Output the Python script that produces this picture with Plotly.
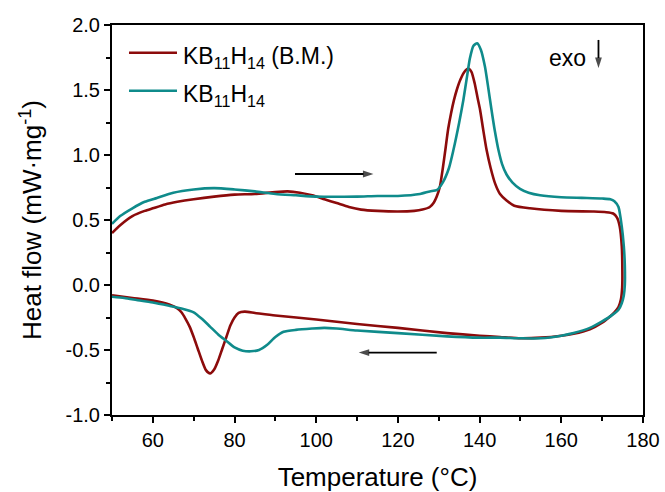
import plotly.graph_objects as go

# DSC heating/cooling loops (temperature in °C, heat flow in mW·mg^-1)
bm_temp = [
    50, 52, 55, 58, 60, 63, 66, 70, 75, 80, 85, 90, 93, 96, 99, 102, 105, 108, 111, 115,
    120, 124, 126, 127.8, 128.8, 129.5, 130.3, 131, 131.7, 132.3, 133, 133.7, 134.4, 135.3,
    136.3, 137.2, 138, 138.8, 139.5, 140.1, 140.9, 141.7, 142.7, 143.8, 145, 146.6, 148.5,
    152.3, 160, 168, 171, 172.7, 173.6, 174.3, 174.8, 174.95, 174.9, 174.6, 174, 173, 172,
    170, 167, 163, 160, 155, 150, 145, 140, 132, 120, 110, 100, 90, 85, 82.5, 81, 80, 79,
    78, 77, 76, 75, 74, 73, 72, 71, 70, 69, 68, 67, 66, 64, 60, 55, 50,
]
bm_flow = [
    0.40, 0.46, 0.53, 0.57, 0.59, 0.62, 0.64, 0.66, 0.68, 0.695, 0.70, 0.715, 0.72, 0.71,
    0.69, 0.66, 0.63, 0.60, 0.58, 0.57, 0.565, 0.57, 0.58, 0.60, 0.635, 0.68, 0.76, 0.90,
    1.06, 1.20, 1.32, 1.42, 1.50, 1.58, 1.64, 1.665, 1.64, 1.55, 1.44, 1.35, 1.19, 1.04,
    0.90, 0.78, 0.70, 0.65, 0.61, 0.59, 0.57, 0.565, 0.56, 0.55, 0.52, 0.45, 0.30, 0.10,
    -0.02, -0.11, -0.17, -0.21, -0.24, -0.29, -0.34, -0.375, -0.39, -0.405, -0.41, -0.40,
    -0.39, -0.37, -0.33, -0.30, -0.265, -0.235, -0.215, -0.205, -0.215, -0.25, -0.31,
    -0.40, -0.49, -0.58, -0.65, -0.68, -0.655, -0.58, -0.49, -0.40, -0.32, -0.26, -0.21,
    -0.18, -0.15, -0.12, -0.10, -0.08,
]

pure_temp = [
    50, 52, 55, 58, 61, 65, 70, 75, 80, 85, 90, 95, 100, 110, 115, 120, 125.4, 127.8,
    129.5, 131, 132.5, 133.6, 135, 136, 137, 137.6, 138.5, 139.4, 140.3, 141.3, 142.1,
    142.9, 143.7, 144.6, 145.5, 146.6, 148, 149.9, 152, 154.8, 160, 165, 170, 172, 173,
    174, 174.8, 175.3, 175.55, 175.55, 175.3, 174.8, 174, 172.5, 170, 167, 163, 160, 155,
    150, 145, 140, 132, 120, 110, 105, 102, 99, 95, 92, 90, 88, 86, 84, 82, 80, 78, 76,
    74, 72, 70, 67, 64, 60, 56, 53, 50,
]
pure_flow = [
    0.47, 0.53, 0.59, 0.64, 0.67, 0.71, 0.735, 0.745, 0.735, 0.72, 0.70, 0.69, 0.68,
    0.68, 0.685, 0.685, 0.70, 0.72, 0.73, 0.79, 0.90, 1.04, 1.25, 1.42, 1.62, 1.74, 1.84,
    1.86, 1.81, 1.68, 1.52, 1.35, 1.19, 1.04, 0.93, 0.85, 0.79, 0.74, 0.71, 0.69, 0.675,
    0.67, 0.665, 0.66, 0.645, 0.60, 0.45, 0.30, 0.15, 0.0, -0.08, -0.14, -0.19, -0.23,
    -0.28, -0.33, -0.37, -0.39, -0.41, -0.41, -0.405, -0.405, -0.395, -0.37, -0.35,
    -0.335, -0.33, -0.335, -0.345, -0.36, -0.40, -0.46, -0.50, -0.51, -0.505, -0.48,
    -0.43, -0.38, -0.32, -0.26, -0.21, -0.18, -0.16, -0.135, -0.115, -0.10, -0.09,
]

series_names = ["KB<sub>11</sub>H<sub>14</sub> (B.M.)", "KB<sub>11</sub>H<sub>14</sub>"]
series_colors = ["#8c0b0b", "#0f8b8b"]

x_ticks = [60, 80, 100, 120, 140, 160, 180]
y_ticks = [-1.0, -0.5, 0.0, 0.5, 1.0, 1.5, 2.0]
y_tick_text = ["-1.0", "-0.5", "0.0", "0.5", "1.0", "1.5", "2.0"]

# direction arrows: (start T, end T, heat flow level)
heating_arrow = (94.8, 114.0, 0.854)
cooling_arrow = (129.5, 110.4, -0.52)
exo_arrow = (169.1, 1.885, 1.67)

FONT = "Liberation Sans, Arial, sans-serif"

fig = go.Figure()
for temps, flows, name, color in [
    (bm_temp, bm_flow, series_names[0], series_colors[0]),
    (pure_temp, pure_flow, series_names[1], series_colors[1]),
]:
    fig.add_trace(go.Scatter(
        x=temps, y=flows, mode="lines", name=name, showlegend=False,
        line=dict(color=color, width=2.6, shape="spline", smoothing=0.6),
    ))

arrow_marker = dict(symbol="arrow", size=[0, 11], angleref="previous", color="black",
                    line=dict(width=0))
for x0, x1, yv in (heating_arrow, cooling_arrow):
    fig.add_trace(go.Scatter(
        x=[x0, x1], y=[yv, yv], mode="lines+markers", showlegend=False, hoverinfo="skip",
        line=dict(color="black", width=1.8), marker=arrow_marker,
    ))
fig.add_trace(go.Scatter(
    x=[exo_arrow[0], exo_arrow[0]], y=[exo_arrow[1], exo_arrow[2]], mode="lines+markers",
    showlegend=False, hoverinfo="skip", line=dict(color="black", width=1.8),
    marker=arrow_marker,
))
fig.add_annotation(x=161.4, y=1.745, text="exo", showarrow=False,
                   font=dict(family=FONT, size=23, color="black"))

# legend drawn as short coloured strokes with labels, top-left inside the frame
legend_rows = [0.929, 0.8315]
for name, color, yp in zip(series_names, series_colors, legend_rows):
    fig.add_shape(type="line", xref="paper", yref="paper", x0=0.032, x1=0.1224, y0=yp, y1=yp,
                  line=dict(color=color, width=2.6))
    fig.add_annotation(xref="paper", yref="paper", x=0.13, y=yp - 0.012, text=name,
                       showarrow=False, xanchor="left", yanchor="middle",
                       font=dict(family=FONT, size=23, color="black"))

axis_common = dict(
    showgrid=False, zeroline=False, showline=True, linecolor="black", linewidth=2,
    mirror=True, ticks="outside", ticklen=6, tickwidth=2, tickcolor="black",
    tickfont=dict(family=FONT, size=20, color="black"), automargin=False,
)

fig.update_xaxes(
    range=[50, 180], tickvals=x_ticks,
    minor=dict(ticks="outside", ticklen=4, tickwidth=2, tickcolor="black", dtick=10, tick0=50),
    title=dict(text="Temperature (°C)", font=dict(family=FONT, size=26, color="black"), standoff=18),
    **axis_common,
)
fig.update_yaxes(
    range=[-1.0, 2.0], tickvals=y_ticks, ticktext=y_tick_text,
    minor=dict(ticks="outside", ticklen=4, tickwidth=2, tickcolor="black", dtick=0.25, tick0=-1.0),
    title=dict(text="Heat flow (mW·mg<sup>-1</sup>)", font=dict(family=FONT, size=26, color="black"), standoff=16),
    **axis_common,
)

fig.update_layout(
    width=665, height=492,
    margin=dict(l=112, r=22, t=25, b=77),
    paper_bgcolor="white", plot_bgcolor="white",
    font=dict(family=FONT, color="black"),
    showlegend=False,
)

fig.write_html("out.html")
